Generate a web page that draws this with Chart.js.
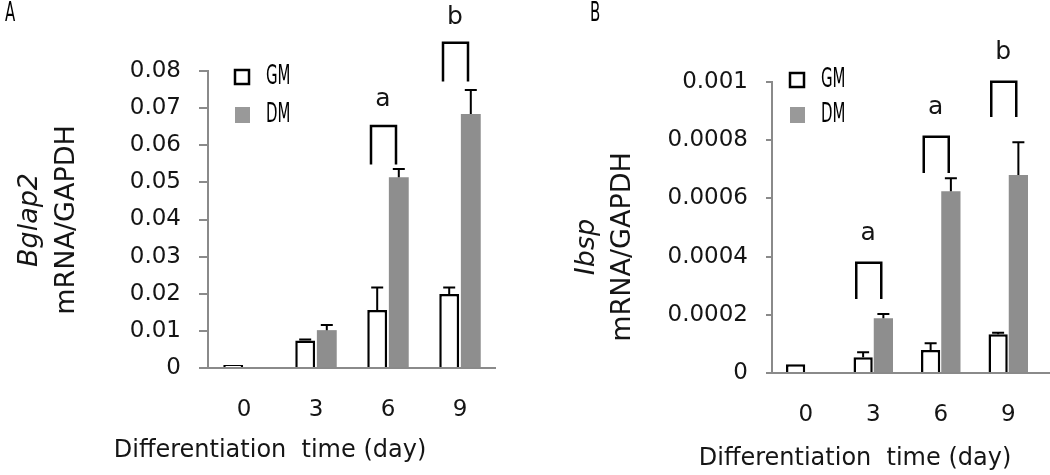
<!DOCTYPE html>
<html>
<head>
<meta charset="utf-8">
<script src="https://cdn.jsdelivr.net/npm/chart.js@4.4.1/dist/chart.umd.min.js"></script>
<style>
  html, body { margin: 0; padding: 0; background: #fff; }
  .panel { position: absolute; top: 0; height: 475px; }
</style>
</head>
<body>
<div class="panel" style="left:0;width:520px"><canvas id="chartA" width="520" height="475"></canvas></div>
<div class="panel" style="left:520px;width:530px"><canvas id="chartB" width="530" height="475"></canvas></div>
<script>
// Shared categories
const days = ['0', '3', '6', '9'];
const seriesNames = ['GM', 'DM'];

// Panel A - Bglap2
const gmA = [0.0008, 0.0074, 0.0156, 0.0199];
const gmErrA = [0, 0.0003, 0.0061, 0.0018];
const dmA = [0, 0.0102, 0.0514, 0.0684];
const dmErrA = [0, 0.0014, 0.0022, 0.0065];
const yLabelsA = ['0', '0.01', '0.02', '0.03', '0.04', '0.05', '0.06', '0.07', '0.08'];

// Panel B - Ibsp
const gmB = [0.00003, 0.000054, 0.000079, 0.000133];
const gmErrB = [0, 0.000017, 0.000023, 0.000005];
const dmB = [0, 0.000188, 0.000625, 0.00068];
const dmErrB = [0, 0.000015, 0.000044, 0.000113];
const yLabelsB = ['0', '0.0002', '0.0004', '0.0006', '0.0008', '0.001'];

// Significance brackets: [category index, top value, leg end value, letter, letter value]
const bracketsA = [[2, 0.0652, 0.0548, 'a', 0.0722], [3, 0.0876, 0.0772, 'b', 0.0944]];
const bracketsB = [[1, 0.000379, 0.000254, 'a', 0.000481], [2, 0.000812, 0.000687, 'a', 0.000911], [3, 0.001001, 0.00088, 'b', 0.001103]];

const GREY = '#8e8e8e';
const AXIS = '#8a8a8a';
const TXT = '#151515';

// extra drawing per canvas (error bars, brackets, legend, titles)
const panelInfo = {
  chartA: {
    errors: [gmErrA, dmErrA], brackets: bracketsA, panel: 'A', panelX: 5,
    gene: 'Bglap2', titleX: [30, 67], titleY: 220, xTitle: [270, 451],
    legendX: 235, legendY: [77, 115], tickLen: 9, axisRight: 0
  },
  chartB: {
    errors: [gmErrB, dmErrB], brackets: bracketsB, panel: 'B', panelX: 70,
    gene: 'Ibsp', titleX: [67, 103], titleY: 247, xTitle: [335, 459],
    legendX: 270, legendY: [80, 115], tickLen: 6, axisRight: 530
  }
};

// condensed label font: use a narrow face if installed, otherwise squeeze Liberation Sans
const probe = document.createElement('canvas').getContext('2d');
probe.font = '26px "DejaVu Sans Condensed", monospace';
const condW = probe.measureText('GMDM').width;
probe.font = '26px monospace';
const hasCond = Math.abs(condW - probe.measureText('GMDM').width) > 0.5;

function narrowText(ctx, text, x, y) {
  ctx.save();
  ctx.textAlign = 'left';
  ctx.textBaseline = 'middle';
  ctx.translate(x, y);
  if (hasCond) {
    ctx.font = '26px "DejaVu Sans Condensed"';
    ctx.scale(0.64, 1);
  } else {
    ctx.font = '25px "Liberation Sans"';
    ctx.scale(0.62, 1);
  }
  ctx.fillText(text, 0, 0);
  ctx.restore();
}

const extras = {
  id: 'extras',
  afterDatasetsDraw(chart) {
    const info = panelInfo[chart.canvas.id];
    const ctx = chart.ctx;
    const xs = chart.scales.x, ys = chart.scales.y;
    const area = chart.chartArea;
    ctx.save();

    // x axis line runs a bit past the plot area, like the original
    ctx.strokeStyle = AXIS;
    ctx.lineWidth = 2;
    ctx.beginPath();
    ctx.moveTo(area.left - info.tickLen, area.bottom);
    ctx.lineTo(info.axisRight || area.right, area.bottom);
    ctx.stroke();

    // error bars (upper only)
    ctx.strokeStyle = '#000';
    ctx.lineWidth = 2;
    chart.data.datasets.forEach((ds, di) => {
      chart.getDatasetMeta(di).data.forEach((bar, i) => {
        const e = info.errors[di][i];
        if (!e) return;
        const top = ys.getPixelForValue(ds.data[i] + e);
        ctx.beginPath();
        ctx.moveTo(bar.x, bar.y);
        ctx.lineTo(bar.x, top);
        ctx.moveTo(bar.x - 6, top);
        ctx.lineTo(bar.x + 6, top);
        ctx.stroke();
      });
    });

    // brackets + letters
    ctx.lineWidth = 2.5;
    ctx.fillStyle = TXT;
    ctx.font = '25px "DejaVu Sans"';
    ctx.textAlign = 'center';
    ctx.textBaseline = 'middle';
    info.brackets.forEach(b => {
      const cx = xs.getPixelForValue(b[0]);
      const top = ys.getPixelForValue(b[1]);
      const leg = ys.getPixelForValue(b[2]);
      ctx.beginPath();
      ctx.moveTo(cx - 17, leg);
      ctx.lineTo(cx - 17, top);
      ctx.lineTo(cx + 8, top);
      ctx.lineTo(cx + 8, leg);
      ctx.stroke();
      ctx.fillText(b[3], cx - 5, ys.getPixelForValue(b[4]));
    });

    // legend
    ctx.lineWidth = 2.5;
    ctx.strokeStyle = '#000';
    ctx.fillStyle = '#fff';
    ctx.fillRect(info.legendX, info.legendY[0] - 7, 14, 14);
    ctx.strokeRect(info.legendX, info.legendY[0] - 7, 14, 14);
    ctx.fillStyle = '#999';
    ctx.fillRect(info.legendX, info.legendY[1] - 8, 15, 16);
    ctx.fillStyle = '#000';
    narrowText(ctx, seriesNames[0], info.legendX + 31, info.legendY[0]);
    narrowText(ctx, seriesNames[1], info.legendX + 31, info.legendY[1]);

    // panel letter
    narrowText(ctx, info.panel, info.panelX, 14);

    // y title, two rotated lines
    ctx.fillStyle = TXT;
    ctx.textAlign = 'center';
    ctx.save();
    ctx.translate(info.titleX[0], info.titleY);
    ctx.rotate(-Math.PI / 2);
    ctx.font = 'italic 27px "DejaVu Sans"';
    ctx.fillText(info.gene, 0, 0);
    ctx.restore();
    ctx.save();
    ctx.translate(info.titleX[1], info.titleY);
    ctx.rotate(-Math.PI / 2);
    ctx.font = '27px "DejaVu Sans"';
    ctx.fillText('mRNA/GAPDH', 0, 0);
    ctx.restore();

    // x title
    ctx.font = '24px "DejaVu Sans"';
    ctx.fillText('Differentiation  time (day)', info.xTitle[0], info.xTitle[1]);
    ctx.restore();
  }
};

function makeChart(id, gm, dm, yMax, step, yLabels, yWidth, tickLen, pad, barPct) {
  return new Chart(document.getElementById(id), {
    type: 'bar',
    data: {
      labels: days,
      datasets: [
        { label: seriesNames[0], data: gm, backgroundColor: '#fff', borderColor: '#000', borderWidth: 2.5,
          categoryPercentage: 0.6, barPercentage: barPct },
        { label: seriesNames[1], data: dm, backgroundColor: GREY, borderWidth: 0,
          categoryPercentage: 0.6, barPercentage: barPct }
      ]
    },
    options: {
      responsive: false,
      animation: false,
      layout: { padding: pad },
      plugins: { legend: { display: false }, tooltip: { enabled: false } },
      scales: {
        x: {
          grid: { display: false },
          border: { display: false },
          ticks: { font: { family: 'DejaVu Sans', size: 23 }, color: TXT, padding: 20 },
          afterFit: s => { s.height = 60; }
        },
        y: {
          min: 0,
          max: yMax,
          grid: { drawOnChartArea: false, drawTicks: true, tickLength: tickLen, color: AXIS, lineWidth: 2 },
          border: { color: AXIS, width: 2 },
          ticks: {
            stepSize: step,
            font: { family: 'DejaVu Sans', size: 23 },
            color: TXT,
            padding: 18,
            callback: v => yLabels[Math.round(v / step)]
          },
          afterFit: s => { s.width = yWidth; }
        }
      }
    },
    plugins: [extras]
  });
}

makeChart('chartA', gmA, dmA, 0.08, 0.01, yLabelsA, 208, 9,
  { left: 0, top: 71, right: 24, bottom: 47 }, 0.92);
makeChart('chartB', gmB, dmB, 0.001, 0.0002, yLabelsB, 252, 6,
  { left: 0, top: 82, right: 8, bottom: 42 }, 0.95);
</script>
</body>
</html>
